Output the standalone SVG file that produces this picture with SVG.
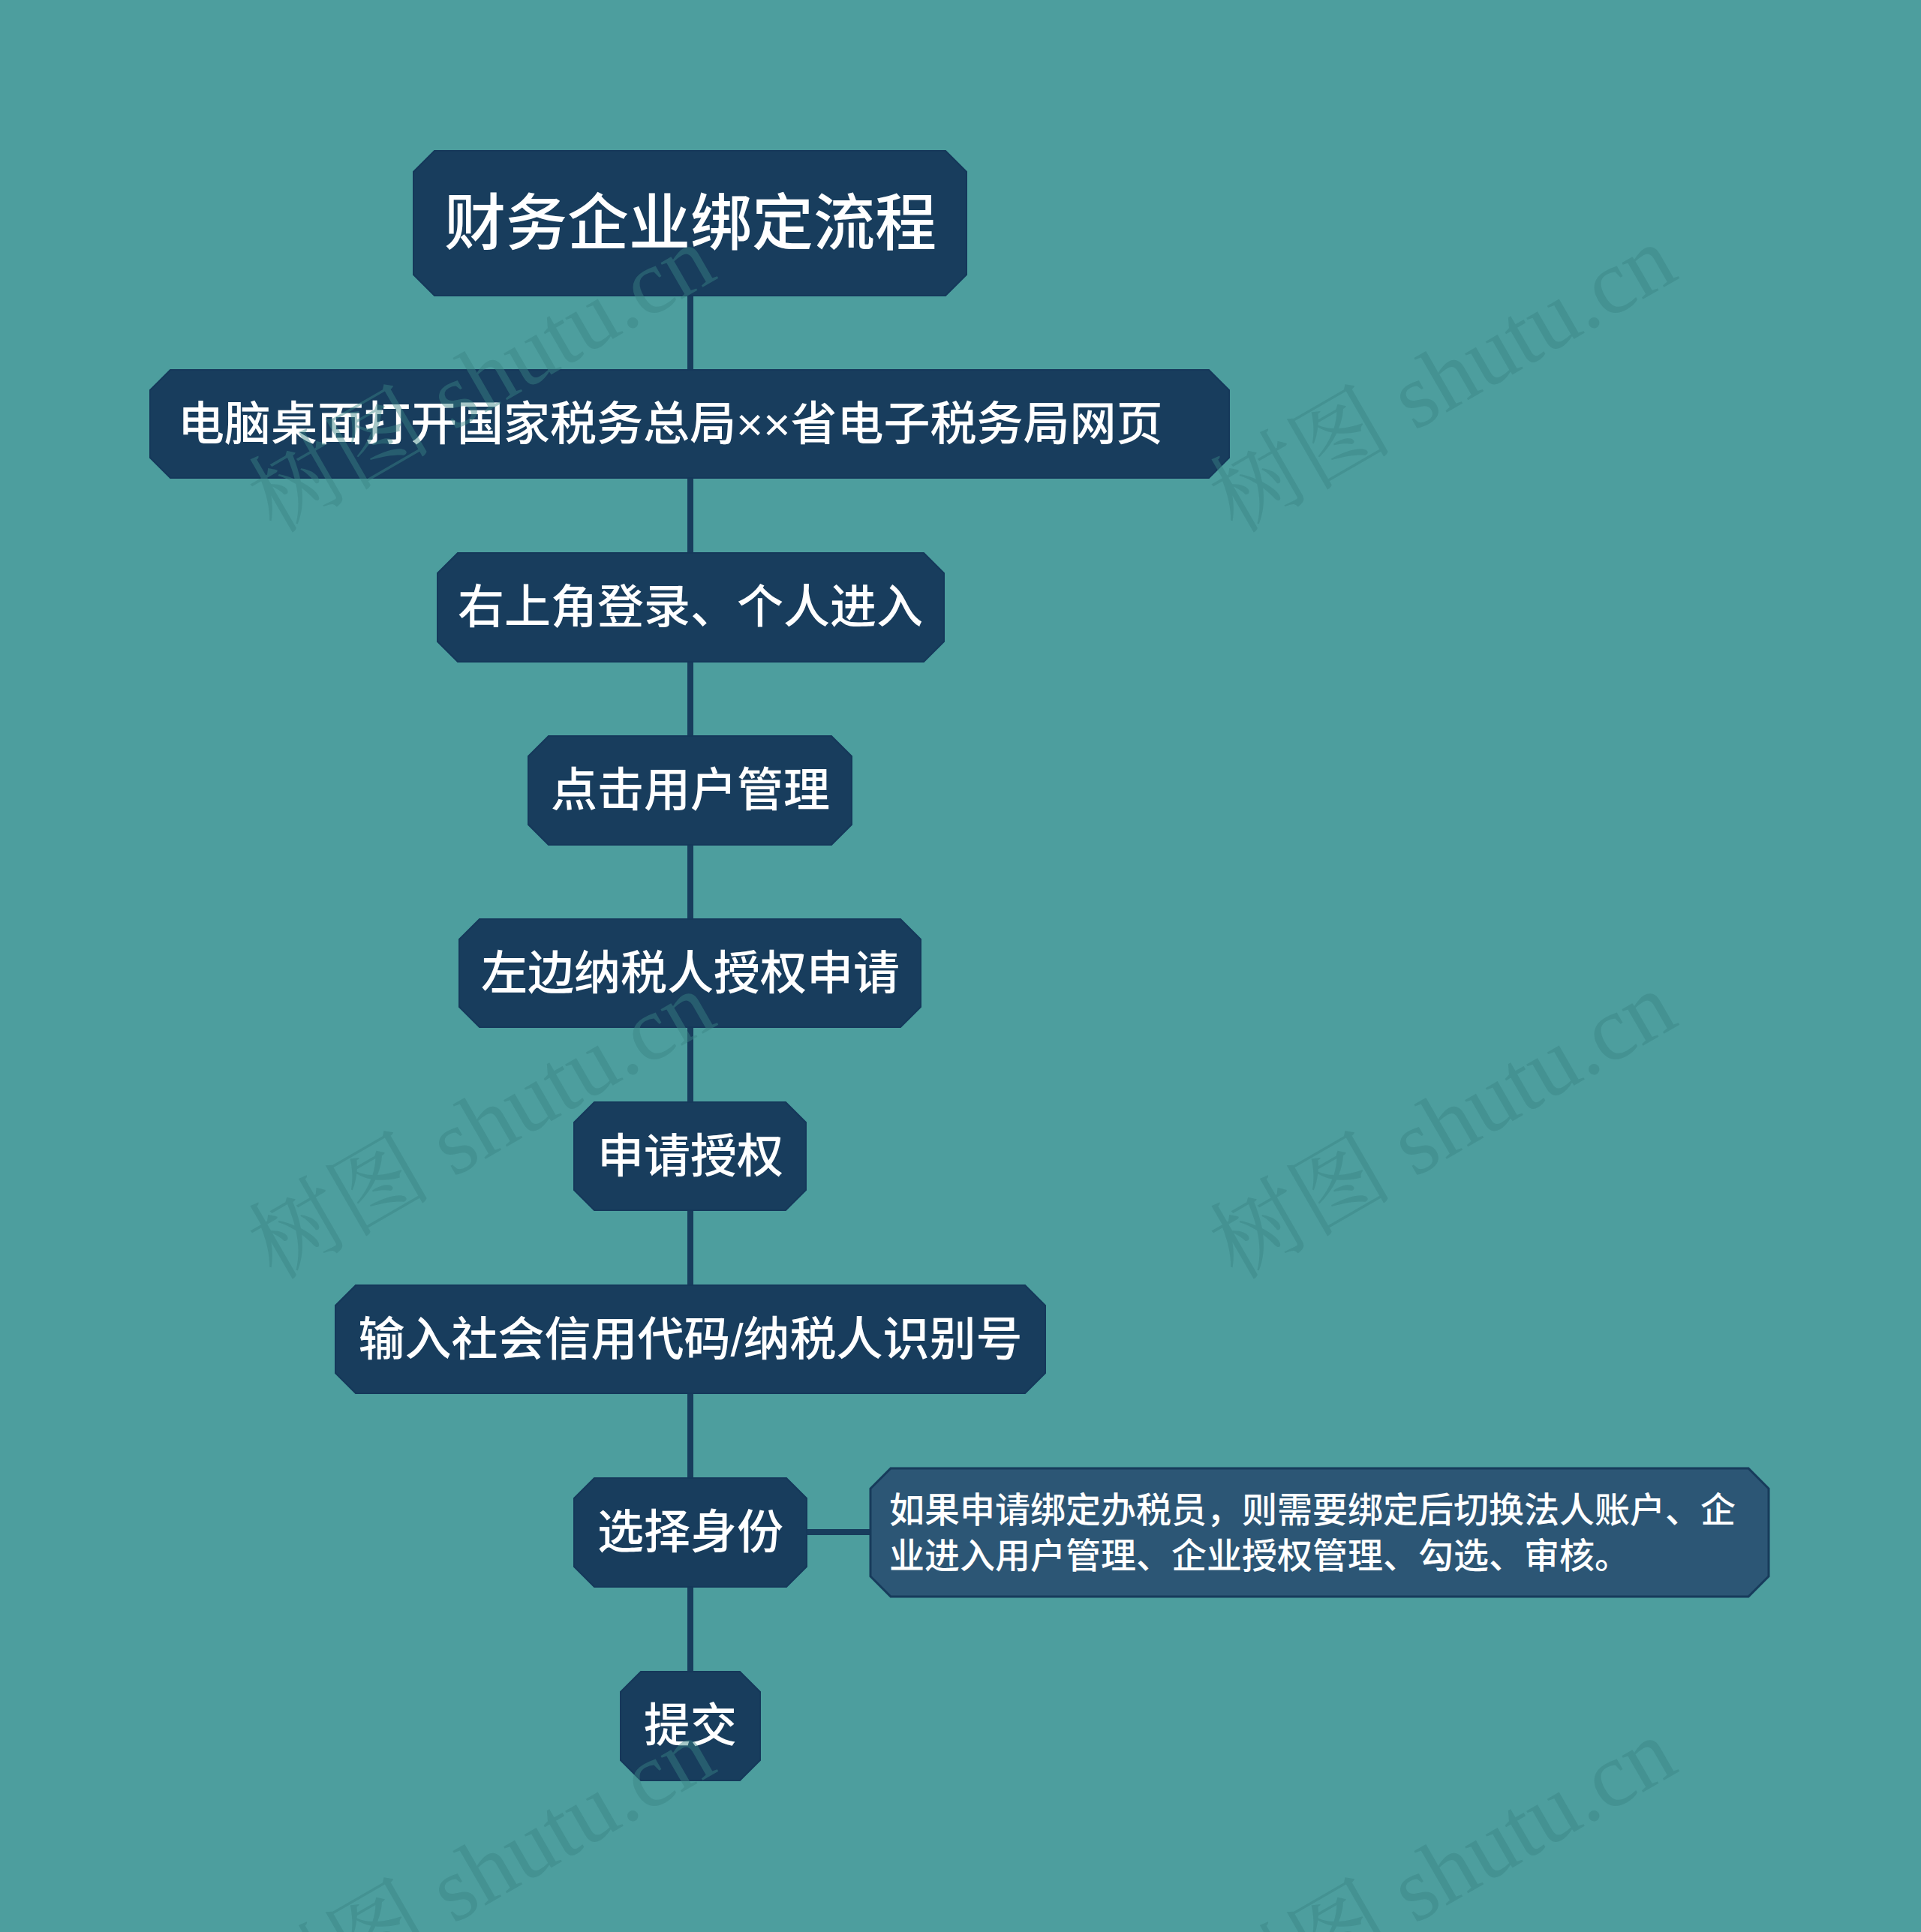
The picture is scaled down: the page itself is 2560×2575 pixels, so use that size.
<svg xmlns="http://www.w3.org/2000/svg" width="2560" height="2575" viewBox="0 0 2560 2575">
<style>
.node{fill:#183d5d;stroke:#15385a;stroke-width:2}
.note{fill:#2c5675;stroke:#173b5b;stroke-width:3}
.t{fill:#ffffff;font-family:"Liberation Sans","Noto Sans CJK SC",sans-serif;font-weight:500;dominant-baseline:central}
.c{text-anchor:middle}
.link{stroke:#183d5d;stroke-width:8;fill:none}
.wm{fill:#3a8585;opacity:0.45;font-family:"Liberation Serif","Noto Serif CJK SC","Noto Sans CJK SC",serif;font-size:122px}
</style>
<rect x="0" y="0" width="2560" height="2575" fill="#4d9e9e"/>
<g id="connectors">
<line class="link" x1="920" y1="394" x2="920" y2="2228"/>
<line class="link" x1="1075" y1="2042" x2="1160" y2="2042"/>
</g>
<g id="root">
<polygon class="node" points="579,201 1260,201 1288,229 1288,366 1260,394 579,394 551,366 551,229"/>
<text class="t c" x="920" y="297" font-size="82">财务企业绑定流程</text>
</g>
<g id="n2">
<polygon class="node" points="227,493 1611,493 1638,520 1638,610 1611,637 227,637 200,610 200,520"/>
<text class="t" x="237" y="565" font-size="62">电脑桌面打开国家税务总局××省电子税务局网页</text>
</g>
<g id="n3">
<polygon class="node" points="610,737 1231,737 1258,764 1258,855 1231,882 610,882 583,855 583,764"/>
<text class="t c" x="920" y="809" font-size="62">右上角登录、个人进入</text>
</g>
<g id="n4">
<polygon class="node" points="731,981 1108,981 1135,1008 1135,1099 1108,1126 731,1126 704,1099 704,1008"/>
<text class="t c" x="920" y="1053" font-size="62">点击用户管理</text>
</g>
<g id="n5">
<polygon class="node" points="639,1225 1200,1225 1227,1252 1227,1342 1200,1369 639,1369 612,1342 612,1252"/>
<text class="t c" x="920" y="1297" font-size="62">左边纳税人授权申请</text>
</g>
<g id="n6">
<polygon class="node" points="792,1469 1047,1469 1074,1496 1074,1586 1047,1613 792,1613 765,1586 765,1496"/>
<text class="t c" x="920" y="1541" font-size="62">申请授权</text>
</g>
<g id="n7">
<polygon class="node" points="474,1713 1366,1713 1393,1740 1393,1830 1366,1857 474,1857 447,1830 447,1740"/>
<text class="t c" x="920" y="1785" font-size="62">输入社会信用代码/纳税人识别号</text>
</g>
<g id="n8">
<polygon class="node" points="792,1970 1048,1970 1075,1997 1075,2088 1048,2115 792,2115 765,2088 765,1997"/>
<text class="t c" x="920" y="2042" font-size="62">选择身份</text>
</g>
<g id="note">
<polygon class="note" points="1187,1957 2330,1957 2357,1984 2357,2101 2330,2128 1187,2128 1160,2101 1160,1984"/>
<text class="t" x="1185" y="2012" font-size="47">如果申请绑定办税员，则需要绑定后切换法人账户、企</text>
<text class="t" x="1185" y="2073" font-size="47">业进入用户管理、企业授权管理、勾选、审核。</text>
</g>
<g id="n9">
<polygon class="node" points="854,2228 986,2228 1013,2255 1013,2346 986,2373 854,2373 827,2346 827,2255"/>
<text class="t c" x="920" y="2300" font-size="62">提交</text>
</g>
<g id="watermarks">
<text class="wm" transform="translate(366,712) rotate(-30)">树图 shutu.cn</text>
<text class="wm" transform="translate(1647,712) rotate(-30)">树图 shutu.cn</text>
<text class="wm" transform="translate(366,1707) rotate(-30)">树图 shutu.cn</text>
<text class="wm" transform="translate(1647,1707) rotate(-30)">树图 shutu.cn</text>
<text class="wm" transform="translate(366,2702) rotate(-30)">树图 shutu.cn</text>
<text class="wm" transform="translate(1647,2702) rotate(-30)">树图 shutu.cn</text>
</g>
</svg>
